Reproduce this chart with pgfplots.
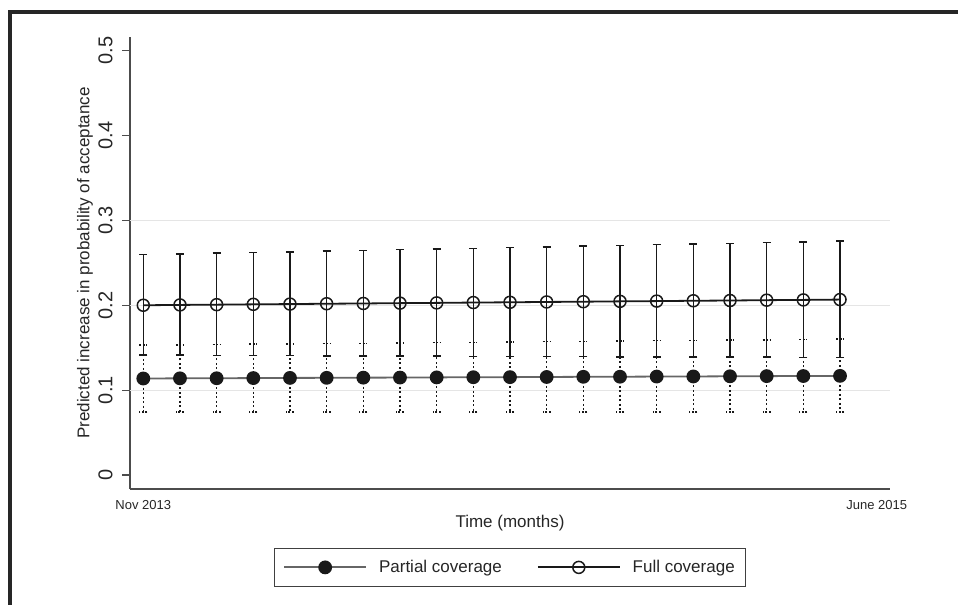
\documentclass[border=0pt]{standalone}
\usepackage{pgfplots}
\pgfplotsset{compat=1.18}
\usepackage{pgfplotstable}
\usepackage{fontspec}
\setmainfont{Liberation Sans}

\pgfplotstableread{
x y lo hi
0 0.1137 0.0745 0.1530
1 0.1139 0.0745 0.1534
2 0.1140 0.0745 0.1537
3 0.1142 0.0745 0.1541
4 0.1144 0.0744 0.1545
5 0.1145 0.0744 0.1548
6 0.1147 0.0744 0.1552
7 0.1148 0.0744 0.1556
8 0.1150 0.0743 0.1559
9 0.1152 0.0743 0.1563
10 0.1153 0.0743 0.1567
11 0.1155 0.0742 0.1571
12 0.1157 0.0742 0.1574
13 0.1158 0.0742 0.1578
14 0.1160 0.0742 0.1582
15 0.1161 0.0741 0.1585
16 0.1163 0.0741 0.1589
17 0.1165 0.0741 0.1593
18 0.1166 0.0740 0.1596
19 0.1168 0.0740 0.1600
}\partialcov

\pgfplotstableread{
x y lo hi
0 0.2000 0.1412 0.2596
1 0.2004 0.1411 0.2604
2 0.2007 0.1409 0.2613
3 0.2011 0.1408 0.2621
4 0.2014 0.1406 0.2629
5 0.2018 0.1405 0.2638
6 0.2021 0.1403 0.2646
7 0.2025 0.1402 0.2655
8 0.2028 0.1401 0.2663
9 0.2032 0.1399 0.2671
10 0.2035 0.1398 0.2680
11 0.2039 0.1396 0.2688
12 0.2042 0.1395 0.2696
13 0.2046 0.1393 0.2705
14 0.2049 0.1392 0.2713
15 0.2053 0.1391 0.2722
16 0.2056 0.1389 0.2730
17 0.2060 0.1388 0.2738
18 0.2063 0.1386 0.2747
19 0.2067 0.1385 0.2755
}\fullcov

\begin{document}
\begin{tikzpicture}
\path[use as bounding box] (0,0) rectangle (958bp,605bp);
\draw[line width=4bp, color=black!85, line join=miter] (9.6bp,-2bp) -- (9.6bp,593.3bp) -- (960bp,593.3bp);
\begin{axis}[
  at={(130bp,116bp)}, anchor=south west,
  scale only axis, width=760bp, height=452bp,
  xmin=-0.363, xmax=20.363, ymin=-0.0165, ymax=0.5161,
  axis lines*=left,
  axis line style={color=black!70, line width=1.2bp},
  /pgf/number format/assume math mode=true,
  font=\fontsize{17bp}{20bp}\selectfont,
  xtick={0,20}, xticklabels={Nov 2013, June 2015},
  x tick style={draw=none},
  xticklabel style={font=\fontsize{13bp}{15bp}\selectfont, text=black!85},
  ytick={0,0.1,0.2,0.3,0.4,0.5},
  yticklabels={0,0.1,0.2,0.3,0.4,0.5},
  yticklabel style={rotate=90, anchor=south, font=\fontsize{20bp}{22bp}\selectfont, text=black!85},
  yticklabel shift=6bp,
  y tick style={color=black!70, line width=1.2bp},
  tick align=outside, major tick length=8bp,
  extra y ticks={0.1,0.2,0.3}, extra y tick labels={},
  extra y tick style={grid=major, major grid style={black!10, line width=1.2bp}, major tick length=0pt},
  xlabel={Time (months)},
  ylabel={Predicted increase in probability of acceptance},
  label style={font=\fontsize{17bp}{20bp}\selectfont, text=black!85},
  xlabel style={at={(axis description cs:0.5,-0.0752)}, anchor=center},
  ylabel style={at={(axis description cs:-0.0592,0.5)}, anchor=center},
  legend columns=2,
  legend style={at={(0.5,-0.1305)}, anchor=north, draw=black!75, line width=1bp,
    font=\fontsize{17bp}{20bp}\selectfont, text=black!85, inner xsep=9bp, inner ysep=10bp,
    /tikz/every odd column/.append style={column sep=10bp},
    /tikz/every even column/.append style={column sep=33bp}},
  legend image code/.code={\draw[mark repeat=2,mark phase=2,#1] plot coordinates {(0bp,0bp) (41bp,0bp) (82bp,0bp)};},
]
\addplot[color=black!60, line width=1.8bp, mark=*, mark size=6bp,
  mark options={fill=black!90, draw=black!90, solid},
  error bars/.cd, y dir=both, y explicit,
  error bar style={black!90, line width=1.5bp, dash pattern=on 2bp off 2.5bp},
  error mark options={black!90, line width=1.5bp, mark size=4bp, dash pattern=on 2bp off 1.5bp, rotate=90}]
  table[x=x, y=y, y error plus expr=\thisrow{hi}-\thisrow{y}, y error minus expr=\thisrow{y}-\thisrow{lo}] {\partialcov};
\addlegendentry{Partial coverage}
\addplot[color=black!90, line width=1.8bp, mark=o, mark size=6bp,
  mark options={draw=black!90, solid, line width=1.5bp},
  error bars/.cd, y dir=both, y explicit,
  error bar style={black!90, line width=1.5bp, solid},
  error mark options={black!90, line width=1.5bp, mark size=4bp, solid, rotate=90}]
  table[x=x, y=y, y error plus expr=\thisrow{hi}-\thisrow{y}, y error minus expr=\thisrow{y}-\thisrow{lo}] {\fullcov};
\addlegendentry{Full coverage}
\end{axis}
\end{tikzpicture}
\end{document}
